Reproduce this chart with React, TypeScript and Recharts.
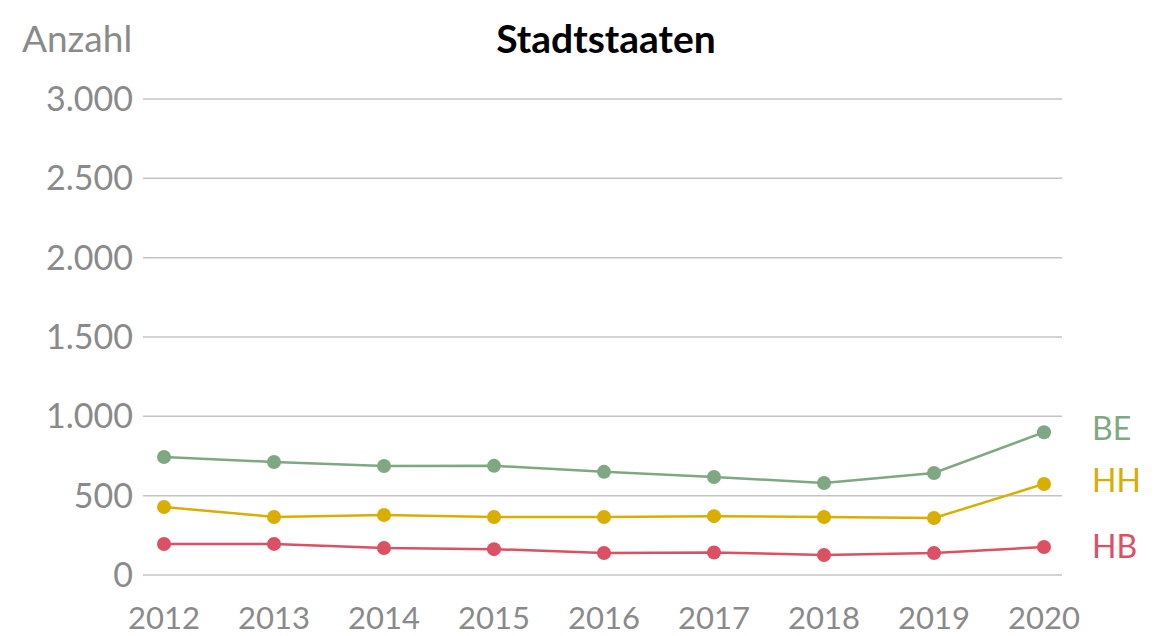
import React from "react";
import { LineChart, Line, XAxis, YAxis, CartesianGrid, LabelList } from "recharts";

const years = ["2012", "2013", "2014", "2015", "2016", "2017", "2018", "2019", "2020"];
const beValues = [744, 712, 687, 688, 650, 618, 580, 643, 900];
const hhValues = [429, 366, 378, 366, 366, 371, 366, 359, 574];
const hbValues = [195, 196, 170, 163, 139, 142, 126, 139, 176];
const yTicks = [0, 500, 1000, 1500, 2000, 2500, 3000];

const data = years.map((y, i) => ({ year: y, BE: beValues[i], HH: hhValues[i], HB: hbValues[i] }));

const FONT = "'Source Sans Pro', Lato, 'Noto Sans', sans-serif";
const GREY = "#8a8a8a";

const fmt = (v: number) => {
  const s = String(Math.round(v));
  return s.replace(/\B(?=(\d{3})+(?!\d))/g, ".");
};

const endLabel = (name: string, color: string, dy: number) => (props: any) => {
  const { x, y, index } = props;
  if (index !== years.length - 1) return null;
  return (
    <text x={x + 48} y={y + dy} fill={color} fontSize={32} fontFamily={FONT} dominantBaseline="central">
      {name}
    </text>
  );
};

export default function App() {
  return (
    <div style={{ position: "absolute", left: 0, top: 0, width: 1159, height: 636, background: "#fff" }}>
      <div style={{ position: "absolute", left: 22, top: 14, fontSize: 37, color: GREY, fontFamily: FONT, lineHeight: "48px" }}>
        Anzahl
      </div>
      <div style={{ position: "absolute", left: 0, width: 1212, top: 14, textAlign: "center", fontSize: 39, fontWeight: 700, color: "#000", fontFamily: FONT, lineHeight: "48px" }}>
        Stadtstaaten
      </div>
      <LineChart width={1159} height={636} data={data} margin={{ top: 99, right: 97, bottom: 0, left: 0 }}>
        <CartesianGrid horizontal vertical={false} stroke="#c4c4c4" strokeWidth={1.5} />
        <XAxis
          dataKey="year"
          axisLine={false}
          tickLine={false}
          tickSize={0}
          tickMargin={32}
          padding={{ left: 21, right: 18 }}
          tick={{ fill: GREY, fontSize: 31, fontFamily: FONT }}
          interval={0}
          height={61}
        />
        <YAxis
          domain={[0, 3000]}
          ticks={yTicks}
          axisLine={false}
          tickLine={false}
          tickSize={0}
          tickMargin={10}
          width={143}
          tickFormatter={fmt}
          tick={{ fill: GREY, fontSize: 34, fontFamily: FONT }}
        />
        <Line dataKey="BE" stroke="#7fa882" strokeWidth={2.5} dot={{ r: 7, fill: "#7fa882", stroke: "none" }} isAnimationActive={false}>
          <LabelList dataKey="BE" content={endLabel("BE", "#7fa882", -5)} />
        </Line>
        <Line dataKey="HH" stroke="#d9ae00" strokeWidth={2.5} dot={{ r: 7, fill: "#d9ae00", stroke: "none" }} isAnimationActive={false}>
          <LabelList dataKey="HH" content={endLabel("HH", "#d9ae00", -4)} />
        </Line>
        <Line dataKey="HB" stroke="#dc5063" strokeWidth={2.5} dot={{ r: 7, fill: "#dc5063", stroke: "none" }} isAnimationActive={false}>
          <LabelList dataKey="HB" content={endLabel("HB", "#dc5063", -2)} />
        </Line>
      </LineChart>
    </div>
  );
}
